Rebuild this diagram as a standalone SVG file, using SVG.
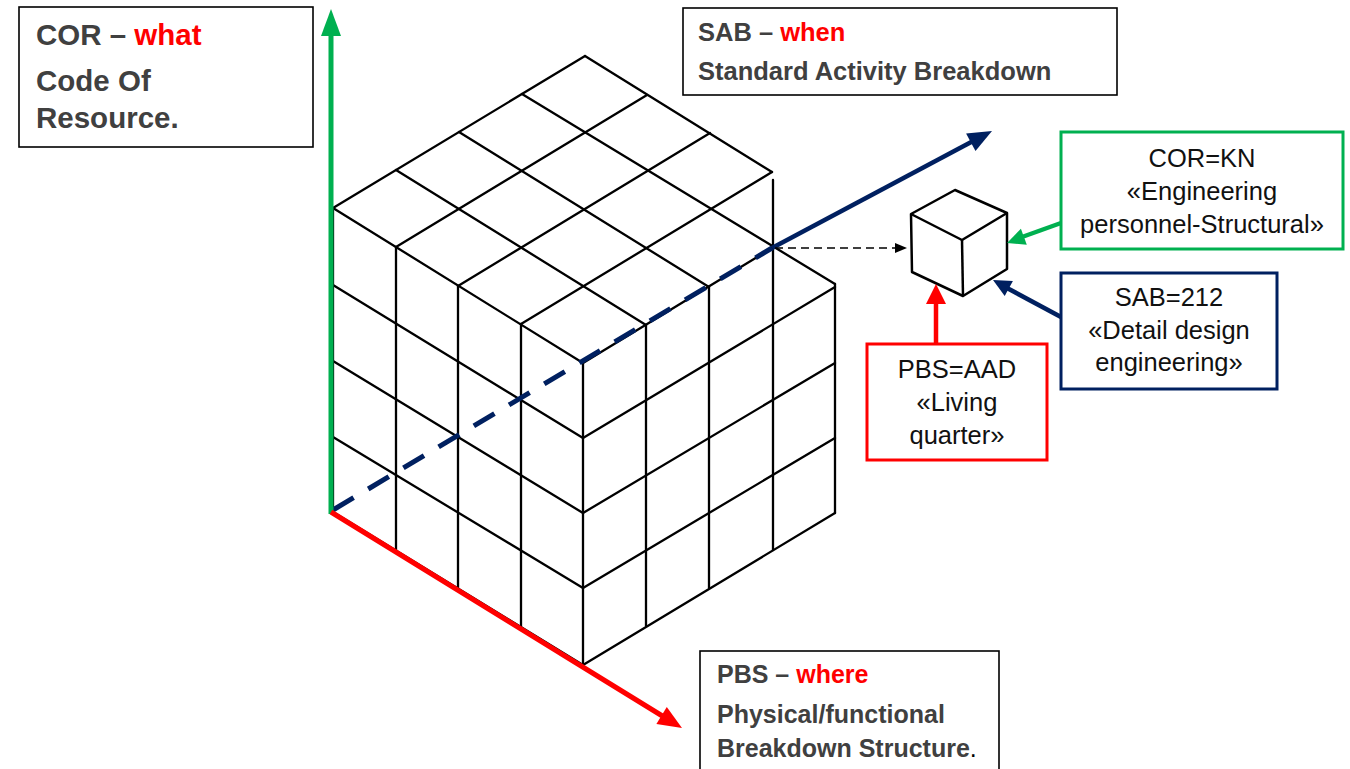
<svg xmlns="http://www.w3.org/2000/svg" width="1350" height="769" viewBox="0 0 1350 769">
<style>
.grid line{stroke:#000;stroke-width:2.3;stroke-linecap:round}
.lbl{font-family:"Liberation Sans",Arial,sans-serif;font-weight:bold;fill:#404040}
.red{fill:#FF0000}
.val{font-family:"Liberation Sans",Arial,sans-serif;font-size:25.5px;fill:#111;text-anchor:middle}
.box{fill:#fff;stroke:#000;stroke-width:1.6}
</style>
<rect width="1350" height="769" fill="#fff"/>
<g id="big-cube" class="grid">
<line x1="585" y1="56" x2="772" y2="172"/>
<line x1="522" y1="94" x2="835" y2="284"/>
<line x1="459" y1="132" x2="709" y2="287"/>
<line x1="396" y1="170" x2="646" y2="325"/>
<line x1="333" y1="208" x2="583" y2="363"/>
<line x1="585" y1="56" x2="333" y2="208"/>
<line x1="647" y1="95" x2="396" y2="247"/>
<line x1="710" y1="133" x2="458" y2="286"/>
<line x1="772" y1="172" x2="521" y2="324"/>
<line x1="772" y1="248" x2="583" y2="363"/>
<line x1="333" y1="208" x2="333" y2="512"/>
<line x1="396" y1="247" x2="396" y2="552"/>
<line x1="458" y1="286" x2="458" y2="590"/>
<line x1="521" y1="324" x2="521" y2="627"/>
<line x1="583" y1="363" x2="583" y2="665"/>
<line x1="333" y1="285" x2="583" y2="438"/>
<line x1="333" y1="361" x2="583" y2="513"/>
<line x1="333" y1="437" x2="583" y2="588"/>
<line x1="333" y1="512" x2="583" y2="665"/>
<line x1="646" y1="325" x2="646" y2="626"/>
<line x1="709" y1="287" x2="709" y2="588"/>
<line x1="773" y1="180" x2="773" y2="550"/>
<line x1="835" y1="284" x2="835" y2="513"/>
<line x1="583" y1="438" x2="835" y2="287"/>
<line x1="583" y1="513" x2="835" y2="363"/>
<line x1="583" y1="588" x2="835" y2="438"/>
<line x1="583" y1="665" x2="835" y2="513"/>
</g>
<g id="axes">
<line x1="333" y1="510" x2="772" y2="248" stroke="#002060" stroke-width="5" stroke-dasharray="24 17"/>
<line x1="772" y1="248" x2="975" y2="140" stroke="#002060" stroke-width="4.5"/>
<polygon points="992,131 975.5,151.1 966.1,133.5" fill="#002060"/>
<line x1="331" y1="514" x2="331" y2="32" stroke="#00B050" stroke-width="5"/>
<polygon points="331,9 321,36 341,36" fill="#00B050"/>
<line x1="331" y1="512" x2="664" y2="717" stroke="#FF0000" stroke-width="5"/>
<polygon points="682,728 666.8,706.9 656.4,723.9" fill="#FF0000"/>
</g>
<g id="small-cube" fill="none" stroke="#000" stroke-width="2.5" stroke-linejoin="round">
<polygon points="955,190 1007,213 1007,269 963,296 912,272 911,214" fill="#fff"/>
<polyline points="911,214 962,240 1007,213"/>
<line x1="962" y1="240" x2="963" y2="296"/>
</g>
<g id="connectors">
<line x1="775" y1="248" x2="897" y2="248" stroke="#000" stroke-width="1.6" stroke-dasharray="8 5"/>
<polygon points="907,248 895,243 895,253" fill="#000"/>
<line x1="1061" y1="223" x2="1022" y2="237" stroke="#00B050" stroke-width="4.5"/>
<polygon points="1007,243 1026.8,244.8 1020.9,228.8" fill="#00B050"/>
<line x1="1061" y1="317" x2="1007" y2="288" stroke="#002060" stroke-width="4.5"/>
<polygon points="993,280 1012.9,281.1 1004.7,296.1" fill="#002060"/>
<line x1="936" y1="344" x2="936" y2="300" stroke="#FF0000" stroke-width="4.5"/>
<polygon points="936,284 926,304 946,304" fill="#FF0000"/>
</g>
<g id="cor-label">
<rect class="box" x="19" y="7" width="294" height="140"/>
<text class="lbl" x="36" y="45" font-size="29.5">COR – <tspan class="red">what</tspan></text>
<text class="lbl" x="36" y="91" font-size="29.5">Code Of</text>
<text class="lbl" x="36" y="128" font-size="29.5">Resource.</text>
</g>
<g id="sab-label">
<rect class="box" x="683" y="8" width="434" height="87"/>
<text class="lbl" x="698" y="41" font-size="25.5">SAB – <tspan class="red">when</tspan></text>
<text class="lbl" x="698" y="80" font-size="25.5">Standard Activity Breakdown</text>
</g>
<g id="pbs-label">
<rect class="box" x="700" y="651" width="299" height="130"/>
<text class="lbl" x="717" y="683" font-size="25">PBS – <tspan class="red">where</tspan></text>
<text class="lbl" x="717" y="723" font-size="25">Physical/functional</text>
<text class="lbl" x="717" y="757" font-size="25">Breakdown Structure<tspan fill="#000" font-weight="normal">.</tspan></text>
</g>
<g id="cor-kn">
<rect x="1061" y="132" width="282" height="117" fill="#fff" stroke="#00B050" stroke-width="3"/>
<text class="val" x="1202" y="167">COR=KN</text>
<text class="val" x="1202" y="200">«Engineering</text>
<text class="val" x="1202" y="233">personnel-Structural»</text>
</g>
<g id="sab-212">
<rect x="1061" y="273" width="216" height="116" fill="#fff" stroke="#002060" stroke-width="3"/>
<text class="val" x="1169" y="306">SAB=212</text>
<text class="val" x="1169" y="338.5">«Detail design</text>
<text class="val" x="1169" y="371">engineering»</text>
</g>
<g id="pbs-aad">
<rect x="867" y="344" width="180" height="116" fill="#fff" stroke="#FF0000" stroke-width="3"/>
<text class="val" x="957" y="378">PBS=AAD</text>
<text class="val" x="957" y="411">«Living</text>
<text class="val" x="957" y="444">quarter»</text>
</g>
</svg>
